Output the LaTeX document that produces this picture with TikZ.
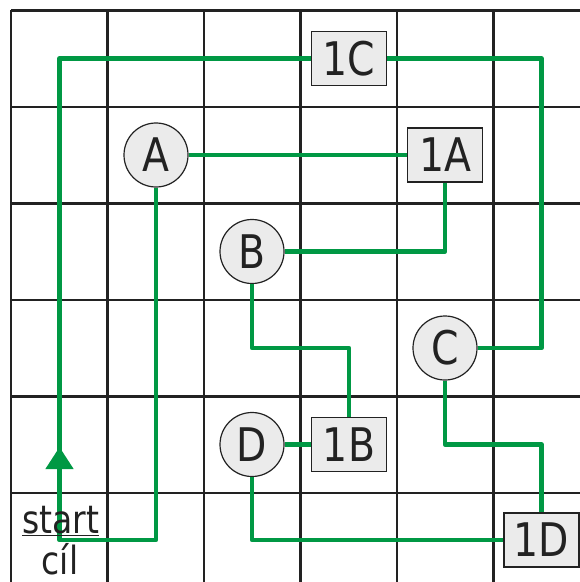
\documentclass[tikz,border=0pt]{standalone}
\usepackage{fontspec}
\setmainfont{DejaVu Sans}[FakeStretch=0.85]
\usetikzlibrary{arrows.meta}
\definecolor{pathgreen}{RGB}{0,152,68}
\definecolor{gridcol}{RGB}{34,34,34}
\definecolor{nodefill}{RGB}{235,235,235}
\tikzset{
  gridline/.style={draw=gridcol, line width=2.5bp},
  greenline/.style={draw=pathgreen, line width=4.6bp, line join=round},
  roundnode/.style={circle, draw=gridcol, line width=1.2bp, fill=nodefill, minimum size=64bp, inner sep=0pt, font=\fontsize{46.5}{50}\selectfont, text=gridcol},
  boxnode/.style={rectangle, draw=gridcol, line width=1.2bp, fill=nodefill, minimum width=75bp, minimum height=54bp, inner sep=0pt, font=\fontsize{46.5}{50}\selectfont, text=gridcol},
  labeltext/.style={inner sep=0pt, font=\fontsize{39}{42}\selectfont, text=gridcol}
}
\begin{document}
\begin{tikzpicture}[x=1bp,y=-1bp]
\useasboundingbox (0,0) rectangle (580,582);
% grid
\foreach \gx in {11,107.5,204,300.5,397,493.5} {
  \draw[gridline] (\gx,10.5) -- (\gx,582);
}
\foreach \gy in {10.5,107,203.5,300,396.5,493} {
  \draw[gridline] (11,\gy) -- (580,\gy);
}
% nodes
\node[boxnode] (n1C) at (349,58.5) {1C};
\node[roundnode] (nA) at (156,155) {A};
\node[boxnode] (n1A) at (445,155) {1A};
\node[roundnode] (nB) at (252,251.5) {B};
\node[roundnode] (nC) at (445,348) {C};
\node[roundnode] (nD) at (252,444.5) {D};
\node[boxnode] (n1B) at (349,444.5) {1B};
\node[boxnode] (n1D) at (541.5,540) {1D};
\coordinate (start) at (59.5,540);
\coordinate (tip) at (59.5,447);
% paths
\draw[greenline] (n1C.west) -- (59.5,58.5) -- (start) -- (156,540) -- (nA.south);
\draw[greenline] (nA.east) -- (n1A.west);
\draw[greenline] (n1A.south) -- (445,251.5) -- (nB.east);
\draw[greenline] (nB.south) -- (252,348) -- (349,348) -- (n1B.north);
\draw[greenline] (n1B.west) -- (nD.east);
\draw[greenline] (nD.south) -- (252,540) -- (n1D.west);
\draw[greenline] (n1D.north) -- (541.5,444.5) -- (445,444.5) -- (nC.south);
\draw[greenline] (nC.east) -- (541.5,348) -- (541.5,58.5) -- (n1C.east);
\draw[greenline, -{Triangle[width=27bp,length=22bp]}] (start) -- (tip);
% labels
\node[labeltext, anchor=base] (startlbl) at (60.5,533) {\underline{start}};
\node[labeltext, anchor=base] (cillbl) at (60,574) {cíl};
\end{tikzpicture}
\end{document}
